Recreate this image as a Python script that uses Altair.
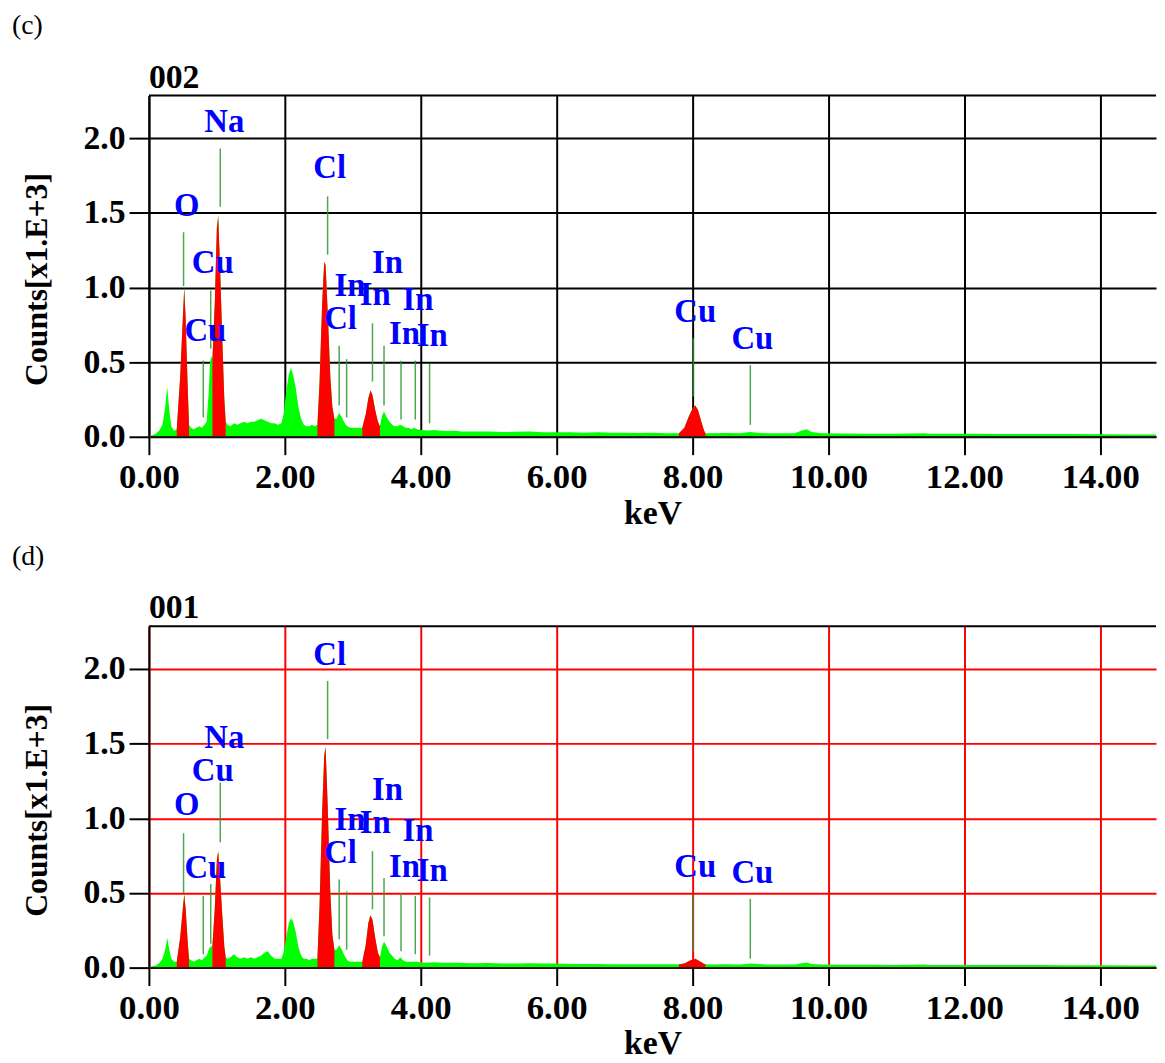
import altair as alt
import pandas as pd

FONT = "Liberation Serif"

# ---------------- data ----------------
ENERGY = [0.00, 0.05, 0.10, 0.15, 0.20, 0.24, 0.27, 0.30, 0.33, 0.37,
          0.41, 0.46, 0.50, 0.52, 0.54, 0.57, 0.59, 0.62, 0.66, 0.70,
          0.74, 0.78, 0.82, 0.85, 0.88, 0.90, 0.92, 0.935, 0.97, 1.00,
          1.02, 1.05, 1.08, 1.11, 1.13, 1.16, 1.20, 1.25, 1.30, 1.35,
          1.40, 1.45, 1.50, 1.55, 1.60, 1.65, 1.70, 1.75, 1.80, 1.85,
          1.90, 1.95, 1.98, 2.02, 2.06, 2.09, 2.12, 2.16, 2.20, 2.24,
          2.28, 2.32, 2.36, 2.40, 2.44, 2.48, 2.51, 2.55, 2.58, 2.60,
          2.63, 2.67, 2.70, 2.73, 2.76, 2.80, 2.84, 2.88, 2.92, 2.96,
          3.00, 3.05, 3.10, 3.14, 3.19, 3.23, 3.26, 3.29, 3.33, 3.37,
          3.40, 3.43, 3.46, 3.50, 3.54, 3.58, 3.62, 3.66, 3.70, 3.74,
          3.78, 3.82, 3.86, 3.90, 3.95, 4.00, 4.10, 4.20, 4.30, 4.40,
          4.50, 4.60, 4.80, 5.00, 5.20, 5.40, 5.60, 5.80, 6.00, 6.20,
          6.40, 6.60, 6.80, 7.00, 7.20, 7.40, 7.60, 7.80, 7.88, 7.94,
          8.00, 8.04, 8.08, 8.13, 8.17, 8.19, 8.30, 8.50, 8.70, 8.85,
          8.95, 9.10, 9.30, 9.50, 9.60, 9.68, 9.75, 9.90, 10.20, 10.60,
          11.00, 11.40, 11.50, 12.00, 12.50, 13.00, 13.50, 14.00, 14.50, 15.00]

COUNTS_C = [0.000, 0.010, 0.020, 0.040, 0.080, 0.200, 0.330, 0.180, 0.070, 0.040,
            0.050, 0.400, 0.800, 1.000, 0.800, 0.350, 0.080, 0.060, 0.050, 0.060,
            0.070, 0.060, 0.080, 0.100, 0.300, 0.500, 0.540, 0.520, 0.900, 1.400,
            1.480, 1.100, 0.650, 0.250, 0.100, 0.080, 0.070, 0.090, 0.080, 0.090,
            0.100, 0.090, 0.100, 0.100, 0.110, 0.120, 0.110, 0.100, 0.090, 0.090,
            0.080, 0.090, 0.150, 0.300, 0.420, 0.460, 0.420, 0.330, 0.200, 0.120,
            0.080, 0.070, 0.070, 0.080, 0.070, 0.080, 0.350, 0.900, 1.170, 1.150,
            0.850, 0.400, 0.200, 0.120, 0.120, 0.160, 0.130, 0.090, 0.070, 0.060,
            0.060, 0.060, 0.060, 0.060, 0.150, 0.260, 0.310, 0.280, 0.180, 0.100,
            0.070, 0.140, 0.170, 0.130, 0.100, 0.080, 0.070, 0.070, 0.080, 0.070,
            0.060, 0.060, 0.050, 0.060, 0.050, 0.045, 0.042, 0.045, 0.040, 0.038,
            0.040, 0.036, 0.036, 0.035, 0.032, 0.033, 0.035, 0.031, 0.030, 0.030,
            0.027, 0.030, 0.027, 0.027, 0.025, 0.027, 0.024, 0.024, 0.060, 0.130,
            0.190, 0.210, 0.180, 0.100, 0.040, 0.024, 0.023, 0.025, 0.023, 0.032,
            0.027, 0.023, 0.023, 0.023, 0.040, 0.050, 0.032, 0.023, 0.022, 0.021,
            0.020, 0.024, 0.020, 0.020, 0.019, 0.018, 0.018, 0.017, 0.016, 0.016]

COUNTS_D = [0.000, 0.010, 0.015, 0.030, 0.060, 0.120, 0.200, 0.120, 0.060, 0.040,
            0.040, 0.200, 0.400, 0.490, 0.400, 0.180, 0.060, 0.050, 0.040, 0.050,
            0.060, 0.050, 0.070, 0.080, 0.120, 0.140, 0.140, 0.150, 0.400, 0.720,
            0.780, 0.580, 0.350, 0.140, 0.070, 0.060, 0.070, 0.090, 0.070, 0.060,
            0.070, 0.060, 0.070, 0.060, 0.070, 0.080, 0.100, 0.110, 0.080, 0.060,
            0.060, 0.060, 0.100, 0.200, 0.300, 0.330, 0.310, 0.240, 0.140, 0.080,
            0.060, 0.060, 0.050, 0.060, 0.060, 0.060, 0.400, 1.050, 1.420, 1.480,
            1.100, 0.500, 0.220, 0.120, 0.120, 0.150, 0.120, 0.080, 0.050, 0.040,
            0.040, 0.040, 0.040, 0.040, 0.150, 0.300, 0.350, 0.320, 0.200, 0.100,
            0.070, 0.140, 0.175, 0.140, 0.100, 0.080, 0.060, 0.050, 0.070, 0.050,
            0.040, 0.040, 0.040, 0.040, 0.040, 0.035, 0.033, 0.036, 0.033, 0.032,
            0.033, 0.031, 0.029, 0.031, 0.028, 0.028, 0.029, 0.027, 0.027, 0.025,
            0.024, 0.025, 0.023, 0.023, 0.023, 0.022, 0.022, 0.022, 0.028, 0.042,
            0.055, 0.060, 0.050, 0.036, 0.025, 0.022, 0.021, 0.023, 0.021, 0.027,
            0.024, 0.021, 0.021, 0.021, 0.030, 0.034, 0.024, 0.021, 0.020, 0.019,
            0.018, 0.021, 0.018, 0.018, 0.017, 0.017, 0.016, 0.016, 0.015, 0.015]

# highlighted (red) regions of interest, keV
ROI_LO = [0.41, 0.935, 2.48, 3.14, 7.80]
ROI_HI = [0.59, 1.13, 2.73, 3.40, 8.19]

# marker lines: energy, top, bottom (x1.E+3 counts)
MARK_E = [0.51, 0.80, 0.91, 1.05, 2.63, 2.80, 2.91, 3.29, 3.46, 3.71, 3.92, 4.13, 8.01, 8.85]
MARK_TOP_C = [1.37, 0.51, 0.98, 1.93, 1.61, 0.61, 0.52, 0.76, 0.61, 0.51, 0.51, 0.49, 0.66, 0.48]
MARK_BOT_C = [1.01, 0.13, 0.59, 1.54, 1.22, 0.21, 0.13, 0.37, 0.21, 0.115, 0.115, 0.09, 0.27, 0.08]
MARK_TOP_D = [0.90, 0.48, 0.56, 1.24, 1.92, 0.59, 0.51, 0.78, 0.60, 0.50, 0.48, 0.47, 0.49, 0.46]
MARK_BOT_D = [0.50, 0.09, 0.16, 0.84, 1.53, 0.19, 0.12, 0.39, 0.21, 0.11, 0.09, 0.08, 0.105, 0.06]

# element labels
LABEL_TEXT = ["O", "Na", "Cu", "Cu", "Cl", "Cl", "In", "In", "In", "In", "In", "In", "Cu", "Cu"]
LABEL_E = [0.555, 1.11, 0.94, 0.83, 2.66, 2.82, 2.96, 3.33, 3.51, 3.96, 3.76, 4.17, 8.04, 8.88]
LABEL_Y_C = [1.48, 2.04, 1.10, 0.64, 1.73, 0.72, 0.94, 0.88, 1.10, 0.85, 0.62, 0.61, 0.77, 0.59]
LABEL_Y_D = [1.02, 1.47, 1.25, 0.60, 2.03, 0.70, 0.92, 0.90, 1.12, 0.85, 0.61, 0.58, 0.61, 0.57]

X_TICKS = [0, 2, 4, 6, 8, 10, 12, 14]
Y_TICKS = [0.0, 0.5, 1.0, 1.5, 2.0]

W = 1015
H = 344
XMAX = 14.82
YMAX = 2.286


def panel(counts, mtop, mbot, ly, tag, name, grid_color):
    spec = pd.DataFrame({"E": ENERGY, "c": counts})
    mk = pd.DataFrame({"E": MARK_E, "c": mtop, "bot": mbot})
    lb = pd.DataFrame({"E": LABEL_E, "c": ly, "t": LABEL_TEXT})

    xs = alt.Scale(domain=[0, XMAX], nice=False, zero=False)
    ys = alt.Scale(domain=[0, YMAX], nice=False, zero=False)
    xaxis = alt.Axis(values=X_TICKS, format=".2f", title="keV", grid=True,
                     gridColor=grid_color, gridWidth=2, tickColor="black",
                     tickWidth=2, tickSize=18, domainColor="black", domainWidth=1.5,
                     labelFont=FONT, labelFontSize=35, labelFontWeight="bold",
                     labelColor="black", labelPadding=5, labelFlush=False,
                     labelOverlap=False, titleFont=FONT, titleFontSize=34,
                     titleFontWeight="bold", titleColor="black", titleY=87,
                     titleBaseline="alphabetic")
    yaxis = alt.Axis(values=Y_TICKS, format=".1f", title="Counts[x1.E+3]", grid=True,
                     gridColor=grid_color, gridWidth=2, tickColor="black",
                     tickWidth=2, tickSize=20, domainColor="black", domainWidth=2,
                     labelFont=FONT, labelFontSize=34, labelFontWeight="bold",
                     labelColor="black", labelPadding=4, labelOverlap=False,
                     titleFont=FONT, titleFontSize=32, titleFontWeight="bold",
                     titleColor="black", titleX=-113, titleY=185, titleAngle=270,
                     titleAlign="center", titleBaseline="middle")
    X = alt.X("E:Q", scale=xs, axis=xaxis)
    Y = alt.Y("c:Q", scale=ys, axis=yaxis, stack=False)

    green = alt.Chart(spec).mark_area(color="#00FF00", clip=True).encode(x=X, y=Y)
    reds = []
    for lo, hi in zip(ROI_LO, ROI_HI):
        sub = spec[(spec["E"] >= lo) & (spec["E"] <= hi)]
        reds.append(alt.Chart(sub).mark_area(color="#FF0000", clip=True).encode(x=X, y=Y))
    lines = alt.Chart(mk).mark_rule(color="#2f962f", strokeWidth=1.5, opacity=0.85).encode(
        x=X, y=Y, y2="bot:Q")
    labels = alt.Chart(lb).mark_text(font=FONT, fontSize=33, fontWeight="bold",
                                     color="#0000FF", align="center",
                                     baseline="alphabetic").encode(x=X, y=Y, text="t:N")
    base = alt.Chart(pd.DataFrame({"c": [0.0]})).mark_rule(
        color="#222222", strokeWidth=1.5).encode(y=Y)
    top = alt.Chart(pd.DataFrame({"c": [YMAX]})).mark_rule(
        color="black", strokeWidth=2).encode(y=Y)
    tag_t = alt.Chart(pd.DataFrame({"t": [tag]})).mark_text(
        font=FONT, fontSize=28, align="left", baseline="alphabetic", color="black"
    ).encode(x=alt.value(-138), y=alt.value(-62), text="t:N")
    name_t = alt.Chart(pd.DataFrame({"t": [name]})).mark_text(
        font=FONT, fontSize=34, fontWeight="bold", align="left",
        baseline="alphabetic", color="black"
    ).encode(x=alt.value(0), y=alt.value(-8), text="t:N")

    return alt.layer(green, *reds, lines, labels, base, top, tag_t, name_t).properties(
        width=W, height=H)


pc = panel(COUNTS_C, MARK_TOP_C, MARK_BOT_C, LABEL_Y_C, "(c)", "002", "black")
pd_ = panel(COUNTS_D, MARK_TOP_D, MARK_BOT_D, LABEL_Y_D, "(d)", "001", "#FF0000")

chart = alt.vconcat(pc, pd_, spacing=13).properties(
    padding={"left": 4, "top": 0, "right": 0, "bottom": 0}
).configure_view(strokeWidth=0)

chart.save("out.html", embed_options={"renderer": "svg", "actions": False})
